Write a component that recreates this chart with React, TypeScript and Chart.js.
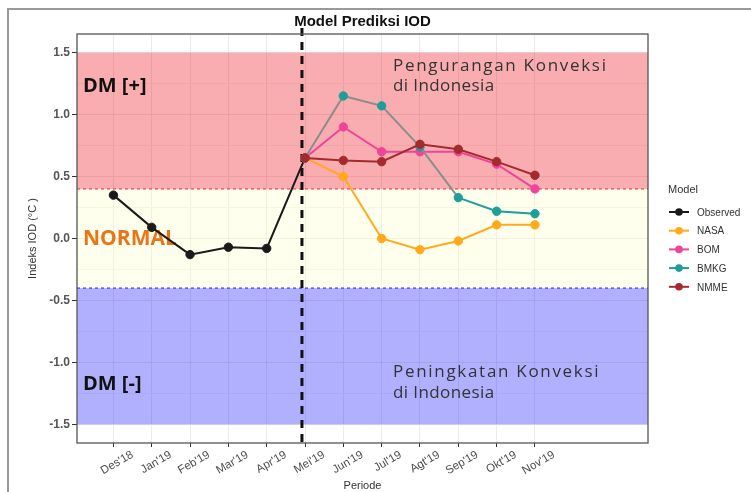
import { useEffect, useRef } from "react";
import { Chart, registerables } from "chart.js";
Chart.register(...registerables);

const categories = ["Des'18", "Jan'19", "Feb'19", "Mar'19", "Apr'19", "Mei'19", "Jun'19", "Jul'19", "Agt'19", "Sep'19", "Okt'19", "Nov'19"];
const observed = [0.35, 0.09, -0.13, -0.07, -0.08, 0.65, null, null, null, null, null, null];
const nasa = [null, null, null, null, null, 0.65, 0.5, 0.0, -0.09, -0.02, 0.11, 0.11];
const bom = [null, null, null, null, null, 0.65, 0.9, 0.7, 0.7, 0.7, 0.6, 0.4];
const bmkg = [null, null, null, null, null, 0.65, 1.15, 1.07, 0.74, 0.33, 0.22, 0.2];
const nmme = [null, null, null, null, null, 0.65, 0.63, 0.62, 0.76, 0.72, 0.62, 0.51];
const yTicks = [-1.5, -1.25, -1.0, -0.75, -0.5, -0.25, 0, 0.25, 0.5, 0.75, 1.0, 1.25, 1.5];
const seriesNames = ["Observed", "NASA", "BOM", "BMKG", "NMME"];
const seriesColors = ["#1a1a1a", "#FFAA1A", "#EE4499", "#1E9E98", "#A52A2E"];
const bandLimits = [-1.5, -0.4, 0.4, 1.5];
const forecastStart = 4.92;

const toPts = (arr: (number | null)[]) =>
  arr.map((v, i) => (v === null ? null : { x: i, y: v })).filter((p) => p !== null) as { x: number; y: number }[];

export default function App() {
  const ref = useRef<HTMLCanvasElement | null>(null);
  useEffect(() => {
    if (!ref.current) return;
    const series = [observed, nasa, bom, bmkg, nmme];
    const datasets = series.map((s, k) => {
      const c = seriesColors[k];
      const ds: any = {
        label: seriesNames[k],
        data: toPts(s),
        borderColor: c,
        backgroundColor: c,
        pointBackgroundColor: c,
        pointBorderColor: c,
        pointRadius: 4.2,
        pointBorderWidth: 1,
        borderWidth: 2,
        tension: 0,
        order: 5 - k,
      };
      if (seriesNames[k] === "BMKG") {
        ds.segment = { borderColor: (ctx: any) => (ctx.p0DataIndex < 4 ? "#8C8C8C" : c) };
      }
      return ds;
    });

    const bgPlugin = {
      id: "bands",
      beforeDatasetsDraw(chart: any) {
        const { ctx, chartArea: a, scales } = chart;
        const y = scales.y;
        const x = scales.x;
        ctx.save();
        ctx.beginPath();
        ctx.rect(a.left, a.top, a.right - a.left, a.bottom - a.top);
        ctx.clip();
        const fills = ["rgba(0,0,255,0.31)", "rgba(255,255,200,0.3)", "rgba(240,0,10,0.32)"];
        for (let i = 0; i < 3; i++) {
          const yt = y.getPixelForValue(bandLimits[i + 1]);
          const yb = y.getPixelForValue(bandLimits[i]);
          ctx.fillStyle = fills[i];
          ctx.fillRect(a.left, yt, a.right - a.left, yb - yt);
        }
        ctx.lineWidth = 1.2;
        ctx.setLineDash([3, 3]);
        ctx.strokeStyle = "#FF3B3B";
        let yy = y.getPixelForValue(0.4);
        ctx.beginPath();
        ctx.moveTo(a.left, yy);
        ctx.lineTo(a.right, yy);
        ctx.stroke();
        ctx.strokeStyle = "#3B3BEE";
        yy = y.getPixelForValue(-0.4);
        ctx.beginPath();
        ctx.moveTo(a.left, yy);
        ctx.lineTo(a.right, yy);
        ctx.stroke();
        ctx.restore();

        // annotations
        ctx.save();
        ctx.textBaseline = "alphabetic";
        ctx.textAlign = "left";
        ctx.fillStyle = "#111";
        ctx.font = "bold 20px 'Open Sans'";
        ctx.fillText("DM [+]", a.left + 6, 92);
        ctx.fillText("DM [-]", a.left + 6, 390);
        ctx.fillStyle = "#E8751A";
        ctx.font = "bold 21px 'Open Sans'";
        ctx.fillText("NORMAL", a.left + 6, 245);
        ctx.fillStyle = "#333";
        ctx.font = "17px 'Open Sans'";
        (ctx as any).letterSpacing = "1.7px";
        ctx.fillText("Pengurangan Konveksi", 393, 71);
        ctx.fillText("Peningkatan Konveksi", 393, 377);
        (ctx as any).letterSpacing = "0.4px";
        ctx.fillText("di Indonesia", 393, 91);
        ctx.fillText("di Indonesia", 393, 398);
        (ctx as any).letterSpacing = "0px";
        ctx.restore();

        // vertical dashed
        ctx.save();
        const xp = x.getPixelForValue(forecastStart);
        ctx.strokeStyle = "#111";
        ctx.lineWidth = 3;
        ctx.setLineDash([8, 6]);
        ctx.beginPath();
        ctx.moveTo(xp, 28);
        ctx.lineTo(xp, a.bottom + 3);
        ctx.stroke();
        ctx.restore();
      },
      afterDraw(chart: any) {
        const { ctx, chartArea: a } = chart;
        ctx.save();
        ctx.strokeStyle = "#555";
        ctx.lineWidth = 1.3;
        ctx.strokeRect(a.left, a.top, a.right - a.left, a.bottom - a.top);
        // outer frame
        ctx.strokeStyle = "#999";
        ctx.lineWidth = 2;
        ctx.beginPath();
        ctx.moveTo(8, 492);
        ctx.lineTo(8, 9);
        ctx.lineTo(751, 9);
        ctx.stroke();
        // title
        ctx.fillStyle = "#111";
        ctx.font = "bold 15px 'Liberation Sans'";
        ctx.textAlign = "center";
        ctx.textBaseline = "alphabetic";
        ctx.fillText("Model Prediksi IOD", (a.left + a.right) / 2, 26);
        // x title
        ctx.fillStyle = "#333";
        ctx.font = "11px 'Liberation Sans'";
        ctx.fillText("Periode", (a.left + a.right) / 2, 489);
        // y title
        ctx.save();
        ctx.translate(36, (a.top + a.bottom) / 2);
        ctx.rotate(-Math.PI / 2);
        ctx.fillText("Indeks IOD (°C )", 0, 0);
        ctx.restore();
        // legend
        ctx.textAlign = "left";
        ctx.textBaseline = "middle";
        ctx.fillStyle = "#333";
        ctx.font = "11px 'Liberation Sans'";
        ctx.fillText("Model", 668, 190);
        for (let i = 0; i < seriesNames.length; i++) {
          const yy = 212 + i * 18.7;
          ctx.strokeStyle = seriesColors[i];
          ctx.fillStyle = seriesColors[i];
          ctx.lineWidth = 2;
          ctx.beginPath();
          ctx.moveTo(669, yy);
          ctx.lineTo(689, yy);
          ctx.stroke();
          ctx.beginPath();
          ctx.arc(679, yy, 3.8, 0, Math.PI * 2);
          ctx.fill();
          ctx.fillStyle = "#333";
          ctx.font = "10px 'Liberation Sans'";
          ctx.fillText(seriesNames[i], 697, yy + 1);
        }
        ctx.restore();
      },
    };

    const chart = new Chart(ref.current, {
      type: "line",
      data: { datasets },
      plugins: [bgPlugin],
      options: {
        responsive: false,
        animation: false,
        layout: { padding: { top: 34, right: 103, left: 0, bottom: 0 } },
        plugins: { legend: { display: false }, title: { display: false }, tooltip: { enabled: false } },
        scales: {
          x: {
            type: "linear",
            min: -0.95,
            max: 13.95,
            afterBuildTicks: (s: any) => {
              s.ticks = categories.map((_, i) => ({ value: i }));
            },
            afterFit: (s: any) => {
              s.height = 49;
            },
            border: { display: false },
            grid: { color: "#EBEBEB", lineWidth: 1, tickLength: 4, tickColor: "#333" },
            ticks: {
              autoSkip: false,
              maxRotation: 30,
              minRotation: 30,
              labelOffset: 19,
              padding: 1,
              color: "#4D4D4D",
              font: { family: "'Liberation Sans'", size: 11.5 },
              callback: (v: any) => categories[v] ?? "",
            },
          },
          y: {
            type: "linear",
            min: -1.65,
            max: 1.65,
            afterBuildTicks: (s: any) => {
              s.ticks = yTicks.map((v) => ({ value: v }));
            },
            afterFit: (s: any) => {
              s.width = 77;
            },
            border: { display: false },
            grid: {
              color: (c: any) => (Math.abs(c.tick.value * 2 - Math.round(c.tick.value * 2)) < 1e-6 ? "#EBEBEB" : "#F3F3F3"),
              lineWidth: 1,
              tickLength: 5,
              tickColor: (c: any) => (Math.abs(c.tick.value * 2 - Math.round(c.tick.value * 2)) < 1e-6 ? "#333" : "rgba(0,0,0,0)"),
            },
            ticks: {
              padding: 2,
              color: "#555",
              font: { family: "'Liberation Sans'", size: 12, weight: "bold" },
              callback: (v: any) => (Math.abs(v * 2 - Math.round(v * 2)) < 1e-6 ? Number(v).toFixed(1) : ""),
            },
          },
        },
      },
    } as any);
    return () => chart.destroy();
  }, []);
  return (
    <div style={{ position: "fixed", left: 0, top: 0, width: 751, height: 492, background: "#fff" }}>
      <canvas ref={ref} width={751} height={492} style={{ width: 751, height: 492, display: "block" }} />
    </div>
  );
}
